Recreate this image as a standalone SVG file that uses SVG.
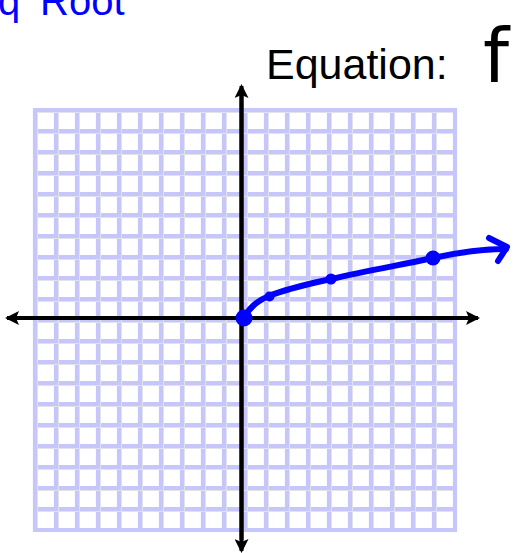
<svg xmlns="http://www.w3.org/2000/svg" width="514" height="553" viewBox="0 0 514 553">
<style>
#grid line{stroke:#c6c6fa;stroke-width:4.2}
#grid .shade line{stroke:#e2e2ea;stroke-width:1}
.axis{stroke:#000;stroke-width:4;fill:none}
.ink{stroke:#0000ff;stroke-width:6;fill:none;stroke-linecap:round;stroke-linejoin:round}
.dot{fill:#0000ff}
</style>
<defs>
<marker id="ah" viewBox="0 0 14 14" refX="12" refY="7" markerWidth="14" markerHeight="14" markerUnits="userSpaceOnUse" orient="auto">
<path d="M0,0 L14,7 L0,14 L3,7 Z" fill="#000"/>
</marker>
</defs>
<rect width="514" height="553" fill="#fff"/>
<text y="15" font-family="'Liberation Sans', Arial, sans-serif" font-size="40" fill="#0000ff"><tspan x="-2">q </tspan><tspan x="40">Root</tspan></text>
<text x="266" y="79" font-family="'Liberation Sans', Arial, sans-serif" font-size="43" fill="#000">Equation:</text>
<text x="483" y="82" font-family="'DejaVu Sans', sans-serif" font-size="74" fill="#000">f</text>
<g id="grid">
<line x1="35" y1="108" x2="35" y2="532"/><line x1="56" y1="108" x2="56" y2="532"/><line x1="77" y1="108" x2="77" y2="532"/><line x1="98" y1="108" x2="98" y2="532"/><line x1="119" y1="108" x2="119" y2="532"/><line x1="140" y1="108" x2="140" y2="532"/><line x1="161" y1="108" x2="161" y2="532"/><line x1="182" y1="108" x2="182" y2="532"/><line x1="203" y1="108" x2="203" y2="532"/><line x1="224" y1="108" x2="224" y2="532"/><line x1="245" y1="108" x2="245" y2="532"/><line x1="266" y1="108" x2="266" y2="532"/><line x1="287" y1="108" x2="287" y2="532"/><line x1="308" y1="108" x2="308" y2="532"/><line x1="329" y1="108" x2="329" y2="532"/><line x1="350" y1="108" x2="350" y2="532"/><line x1="371" y1="108" x2="371" y2="532"/><line x1="392" y1="108" x2="392" y2="532"/><line x1="413" y1="108" x2="413" y2="532"/><line x1="434" y1="108" x2="434" y2="532"/><line x1="455" y1="108" x2="455" y2="532"/>
<line x1="33" y1="110" x2="457" y2="110"/><line x1="33" y1="131" x2="457" y2="131"/><line x1="33" y1="152" x2="457" y2="152"/><line x1="33" y1="173" x2="457" y2="173"/><line x1="33" y1="194" x2="457" y2="194"/><line x1="33" y1="215" x2="457" y2="215"/><line x1="33" y1="236" x2="457" y2="236"/><line x1="33" y1="257" x2="457" y2="257"/><line x1="33" y1="278" x2="457" y2="278"/><line x1="33" y1="299" x2="457" y2="299"/><line x1="33" y1="320" x2="457" y2="320"/><line x1="33" y1="341" x2="457" y2="341"/><line x1="33" y1="362" x2="457" y2="362"/><line x1="33" y1="383" x2="457" y2="383"/><line x1="33" y1="404" x2="457" y2="404"/><line x1="33" y1="425" x2="457" y2="425"/><line x1="33" y1="446" x2="457" y2="446"/><line x1="33" y1="467" x2="457" y2="467"/><line x1="33" y1="488" x2="457" y2="488"/><line x1="33" y1="509" x2="457" y2="509"/><line x1="33" y1="530" x2="457" y2="530"/>
<g class="shade">
<line x1="37.5" y1="112.5" x2="37.5" y2="528"/><line x1="58.5" y1="112.5" x2="58.5" y2="528"/><line x1="79.5" y1="112.5" x2="79.5" y2="528"/><line x1="100.5" y1="112.5" x2="100.5" y2="528"/><line x1="121.5" y1="112.5" x2="121.5" y2="528"/><line x1="142.5" y1="112.5" x2="142.5" y2="528"/><line x1="163.5" y1="112.5" x2="163.5" y2="528"/><line x1="184.5" y1="112.5" x2="184.5" y2="528"/><line x1="205.5" y1="112.5" x2="205.5" y2="528"/><line x1="226.5" y1="112.5" x2="226.5" y2="528"/><line x1="247.5" y1="112.5" x2="247.5" y2="528"/><line x1="268.5" y1="112.5" x2="268.5" y2="528"/><line x1="289.5" y1="112.5" x2="289.5" y2="528"/><line x1="310.5" y1="112.5" x2="310.5" y2="528"/><line x1="331.5" y1="112.5" x2="331.5" y2="528"/><line x1="352.5" y1="112.5" x2="352.5" y2="528"/><line x1="373.5" y1="112.5" x2="373.5" y2="528"/><line x1="394.5" y1="112.5" x2="394.5" y2="528"/><line x1="415.5" y1="112.5" x2="415.5" y2="528"/><line x1="436.5" y1="112.5" x2="436.5" y2="528"/>
<line x1="37.5" y1="112.5" x2="453" y2="112.5"/><line x1="37.5" y1="133.5" x2="453" y2="133.5"/><line x1="37.5" y1="154.5" x2="453" y2="154.5"/><line x1="37.5" y1="175.5" x2="453" y2="175.5"/><line x1="37.5" y1="196.5" x2="453" y2="196.5"/><line x1="37.5" y1="217.5" x2="453" y2="217.5"/><line x1="37.5" y1="238.5" x2="453" y2="238.5"/><line x1="37.5" y1="259.5" x2="453" y2="259.5"/><line x1="37.5" y1="280.5" x2="453" y2="280.5"/><line x1="37.5" y1="301.5" x2="453" y2="301.5"/><line x1="37.5" y1="322.5" x2="453" y2="322.5"/><line x1="37.5" y1="343.5" x2="453" y2="343.5"/><line x1="37.5" y1="364.5" x2="453" y2="364.5"/><line x1="37.5" y1="385.5" x2="453" y2="385.5"/><line x1="37.5" y1="406.5" x2="453" y2="406.5"/><line x1="37.5" y1="427.5" x2="453" y2="427.5"/><line x1="37.5" y1="448.5" x2="453" y2="448.5"/><line x1="37.5" y1="469.5" x2="453" y2="469.5"/><line x1="37.5" y1="490.5" x2="453" y2="490.5"/><line x1="37.5" y1="511.5" x2="453" y2="511.5"/>
</g>
</g>
<g id="axes">
<line class="axis" x1="241.5" y1="540" x2="241.5" y2="86" marker-end="url(#ah)"/>
<line class="axis" x1="241.5" y1="96" x2="241.5" y2="551" marker-end="url(#ah)"/>
<line class="axis" x1="20" y1="318" x2="478" y2="318" marker-end="url(#ah)"/>
<line class="axis" x1="466" y1="318" x2="7" y2="318" marker-end="url(#ah)"/>
</g>
<g id="curve">
<path class="ink" d="M244,318 C250,306 259,300 269,296 C289,288 309,284 331,279 C366,271 400,265 433,258 C460,252 485,249 506,249"/>
<path class="ink" d="M489,238 L507,247 L498,261"/>
<circle class="dot" cx="244" cy="318" r="8.5"/>
<circle class="dot" cx="269.5" cy="296.5" r="5"/>
<circle class="dot" cx="331" cy="279" r="5.5"/>
<circle class="dot" cx="433" cy="258" r="7.5"/>
</g>
</svg>
